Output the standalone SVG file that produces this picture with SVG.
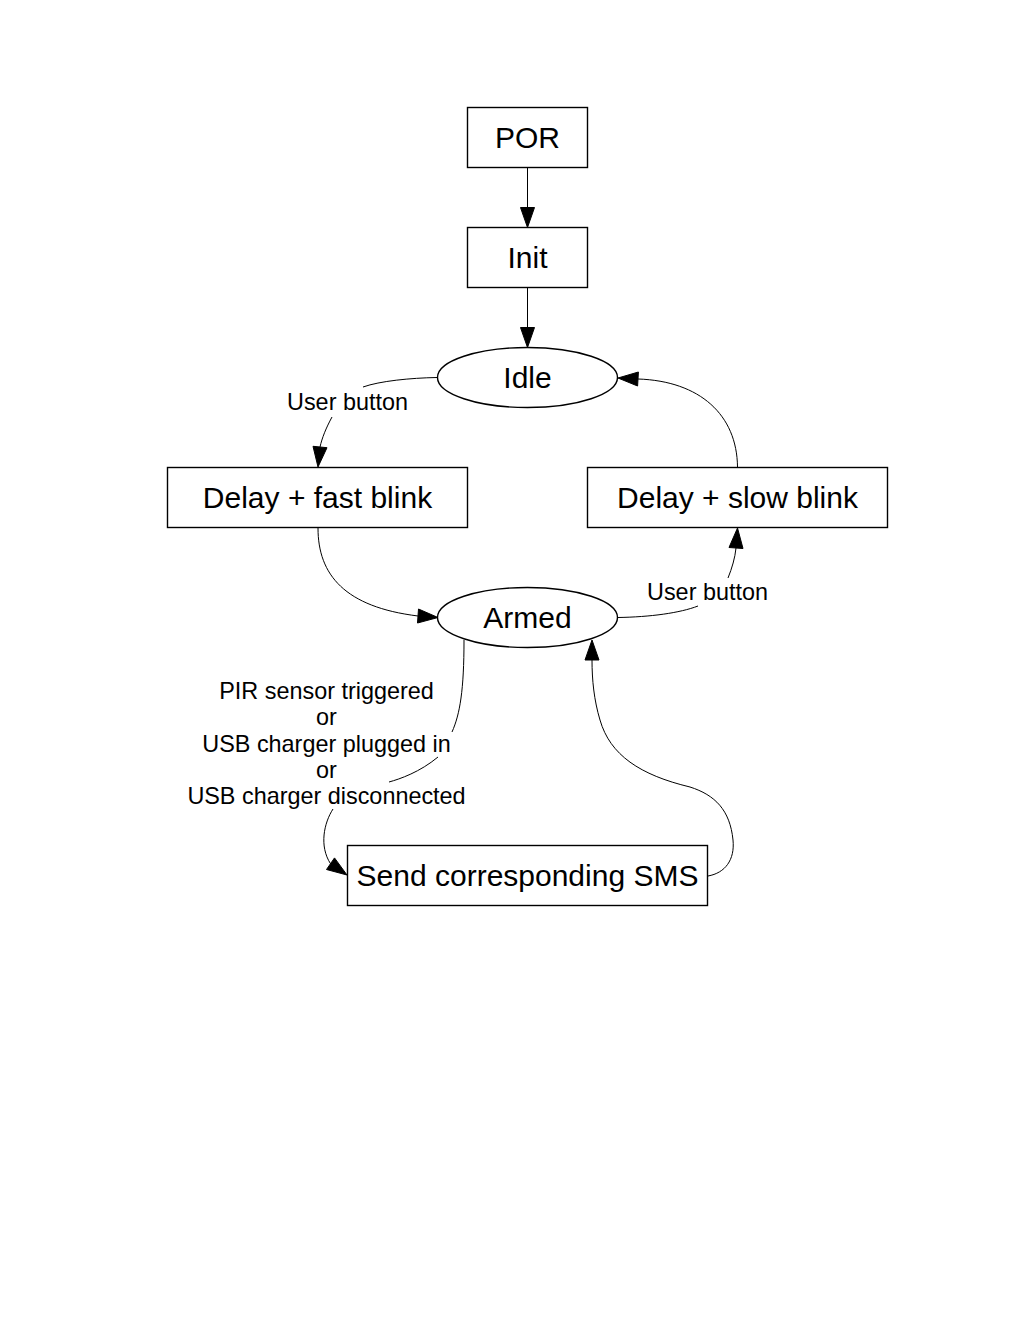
<svg xmlns="http://www.w3.org/2000/svg" width="1020" height="1320" viewBox="0 0 1020 1320">
<style>
.n{fill:#fff;stroke:#000;stroke-width:1.4}
.t{font-family:"Liberation Sans",Arial,sans-serif;font-size:30px;text-anchor:middle;fill:#000}
.e{fill:none;stroke:#000;stroke-width:1}
.a{fill:#000;stroke:#000;stroke-width:1}
.l{font-family:"Liberation Sans",Arial,sans-serif;font-size:23.4px;text-anchor:middle;fill:#000}
</style>
<rect width="1020" height="1320" fill="#fff"/>
<g id="connectors">
<path class="e" d="M527.5,167.5 L527.5,207.5"/>
<polygon class="a" points="520.5,207.5 534.5,207.5 527.5,227.5"/>
<path class="e" d="M527.5,287.5 L527.5,327.5"/>
<polygon class="a" points="520.5,327.5 534.5,327.5 527.5,347.5"/>
<path class="e" d="M437,377.5 C410,378 380,381 363,387 M332,417 C326,428 322,438 320,447"/>
<polygon class="a" points="327,447.7 313,446.3 318,467"/>
<path class="e" d="M318,528 C318,575 345,607 418,616"/>
<polygon class="a" points="417.5,623 418.5,609 438,617.5"/>
<path class="e" d="M618,617.5 C650,617 680,613 698,606 M728,578 C732,568 735,558 736,548"/>
<polygon class="a" points="743,548.5 729,547.5 737.5,528"/>
<path class="e" d="M737.5,467 C737,415 700,381 638,379"/>
<polygon class="a" points="638.4,372 637.6,386 618,378"/>
<path class="e" d="M464,640 C464,690 460,714 452,732 M438,757 C420,772 400,779 389,782 M333,809 C324,823 319,846 330.5,863.7"/>
<polygon class="a" points="326.5,869.5 334.5,857.9 347,875"/>
<path class="e" d="M708,876 C725,873 735,860 733,840 C730,810 715,795 690,787 C640,775 610,755 600,720 C594,700 592,680 592,660"/>
<polygon class="a" points="585,660 599,660 592,640"/>
<text class="l" x="347.5" y="410">User button</text>
<text class="l" x="707.5" y="600">User button</text>
<text class="l" x="326.5" y="699">PIR sensor triggered</text>
<text class="l" x="326.5" y="725">or</text>
<text class="l" x="326.5" y="752">USB charger plugged in</text>
<text class="l" x="326.5" y="778">or</text>
<text class="l" x="326.5" y="804">USB charger disconnected</text>
</g>
<g id="POR"><rect class="n" x="467.5" y="107.5" width="120" height="60"/><text class="t" x="527.5" y="148">POR</text></g>
<g id="Init"><rect class="n" x="467.5" y="227.5" width="120" height="60"/><text class="t" x="527.5" y="268">Init</text></g>
<g id="Idle"><ellipse class="n" cx="527.5" cy="377.5" rx="90" ry="30"/><text class="t" x="527.5" y="388">Idle</text></g>
<g id="FastBlink"><rect class="n" x="167.5" y="467.5" width="300" height="60"/><text class="t" x="317.5" y="508">Delay + fast blink</text></g>
<g id="SlowBlink"><rect class="n" x="587.5" y="467.5" width="300" height="60"/><text class="t" x="737.5" y="508">Delay + slow blink</text></g>
<g id="Armed"><ellipse class="n" cx="527.5" cy="617.5" rx="90" ry="30"/><text class="t" x="527.5" y="628">Armed</text></g>
<g id="SendSMS"><rect class="n" x="347.5" y="845.5" width="360" height="60"/><text class="t" x="527.5" y="886">Send corresponding SMS</text></g>
</svg>
